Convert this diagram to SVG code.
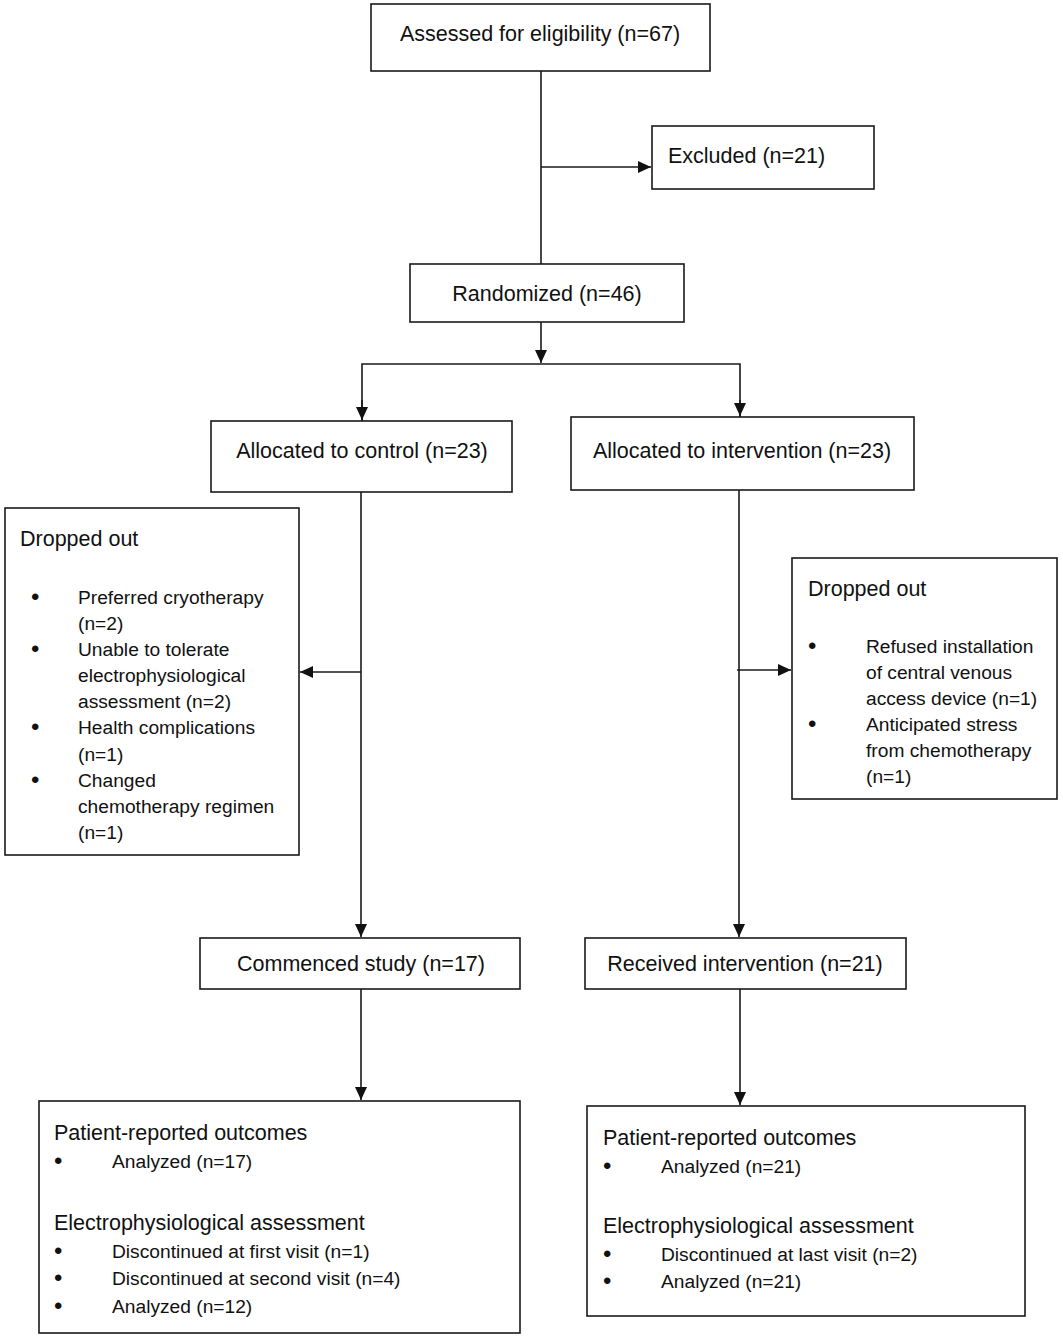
<svg xmlns="http://www.w3.org/2000/svg" width="1063" height="1339" viewBox="0 0 1063 1339">
<defs>
<style>
.box{fill:#fff;stroke:#1a1a1a;stroke-width:1.6}
.t{font-family:"Liberation Sans",Arial,sans-serif;font-size:21.5px;fill:#111}
.b{font-family:"Liberation Sans",Arial,sans-serif;font-size:19.2px;fill:#111}
.d{font-size:24px}
.c{fill:none;stroke:#1a1a1a;stroke-width:1.6}
</style>
<marker id="ah" viewBox="0 0 10 10" refX="10" refY="5" markerWidth="13" markerHeight="12" markerUnits="userSpaceOnUse" orient="auto" preserveAspectRatio="none">
<path d="M0,0 L10,5 L0,10 Z" fill="#111"/>
</marker>
</defs>
<rect width="1063" height="1339" fill="#fff"/>
<g id="connectors">
<line class="c" x1="541" y1="71" x2="541" y2="264"/>
<line class="c" x1="541" y1="167" x2="651" y2="167" marker-end="url(#ah)"/>
<line class="c" x1="541" y1="322" x2="541" y2="363" marker-end="url(#ah)"/>
<polyline class="c" points="362,421 362,364 740,364 740,417"/>
<line class="c" x1="362" y1="400" x2="362" y2="420" marker-end="url(#ah)"/>
<line class="c" x1="740" y1="400" x2="740" y2="416" marker-end="url(#ah)"/>
<line class="c" x1="361" y1="492" x2="361" y2="937" marker-end="url(#ah)"/>
<line class="c" x1="361" y1="672" x2="300" y2="672" marker-end="url(#ah)"/>
<line class="c" x1="739" y1="490" x2="739" y2="937" marker-end="url(#ah)"/>
<line class="c" x1="737" y1="670" x2="791" y2="670" marker-end="url(#ah)"/>
<line class="c" x1="361" y1="989" x2="361" y2="1100" marker-end="url(#ah)"/>
<line class="c" x1="740" y1="989" x2="740" y2="1105" marker-end="url(#ah)"/>
</g>
<g id="assessed">
<rect class="box" x="371" y="4" width="339" height="67"/>
<text class="t" x="540" y="41" text-anchor="middle">Assessed for eligibility (n=67)</text>
</g>
<g id="excluded">
<rect class="box" x="652" y="126" width="222" height="63"/>
<text class="t" x="668" y="163">Excluded (n=21)</text>
</g>
<g id="randomized">
<rect class="box" x="410" y="264" width="274" height="58"/>
<text class="t" x="547" y="301" text-anchor="middle">Randomized (n=46)</text>
</g>
<g id="control">
<rect class="box" x="211" y="421" width="301" height="71"/>
<text class="t" x="362" y="458" text-anchor="middle">Allocated to control (n=23)</text>
</g>
<g id="intervention">
<rect class="box" x="571" y="417" width="343" height="73"/>
<text class="t" x="742" y="458" text-anchor="middle">Allocated to intervention (n=23)</text>
</g>
<g id="dropout-control">
<rect class="box" x="5" y="508" width="294" height="347"/>
<text class="t" x="20" y="546">Dropped out</text>
<g class="b">
<text class="d" x="31" y="605">•</text>
<text x="78" y="604">Preferred cryotherapy</text>
<text x="78" y="630">(n=2)</text>
<text class="d" x="31" y="657">•</text>
<text x="78" y="656">Unable to tolerate</text>
<text x="78" y="682">electrophysiological</text>
<text x="78" y="708">assessment (n=2)</text>
<text class="d" x="31" y="735">•</text>
<text x="78" y="734">Health complications</text>
<text x="78" y="761">(n=1)</text>
<text class="d" x="31" y="788">•</text>
<text x="78" y="787">Changed</text>
<text x="78" y="813">chemotherapy regimen</text>
<text x="78" y="839">(n=1)</text>
</g>
</g>
<g id="dropout-intervention">
<rect class="box" x="792" y="558" width="265" height="241"/>
<text class="t" x="808" y="596">Dropped out</text>
<g class="b">
<text class="d" x="808" y="654">•</text>
<text x="866" y="653">Refused installation</text>
<text x="866" y="679">of central venous</text>
<text x="866" y="705">access device (n=1)</text>
<text class="d" x="808" y="732">•</text>
<text x="866" y="731">Anticipated stress</text>
<text x="866" y="757">from chemotherapy</text>
<text x="866" y="783">(n=1)</text>
</g>
</g>
<g id="commenced">
<rect class="box" x="200" y="938" width="320" height="51"/>
<text class="t" x="361" y="971" text-anchor="middle">Commenced study (n=17)</text>
</g>
<g id="received">
<rect class="box" x="585" y="938" width="321" height="51"/>
<text class="t" x="745" y="971" text-anchor="middle">Received intervention (n=21)</text>
</g>
<g id="outcomes-control">
<rect class="box" x="39" y="1101" width="481" height="232"/>
<text class="t" x="54" y="1140">Patient-reported outcomes</text>
<g class="b">
<text class="d" x="54" y="1169">•</text>
<text x="112" y="1168">Analyzed (n=17)</text>
</g>
<text class="t" x="54" y="1230">Electrophysiological assessment</text>
<g class="b">
<text class="d" x="54" y="1259">•</text>
<text x="112" y="1258">Discontinued at first visit (n=1)</text>
<text class="d" x="54" y="1286">•</text>
<text x="112" y="1285">Discontinued at second visit (n=4)</text>
<text class="d" x="54" y="1314">•</text>
<text x="112" y="1313">Analyzed (n=12)</text>
</g>
</g>
<g id="outcomes-intervention">
<rect class="box" x="587" y="1106" width="438" height="210"/>
<text class="t" x="603" y="1145">Patient-reported outcomes</text>
<g class="b">
<text class="d" x="603" y="1174">•</text>
<text x="661" y="1173">Analyzed (n=21)</text>
</g>
<text class="t" x="603" y="1233">Electrophysiological assessment</text>
<g class="b">
<text class="d" x="603" y="1262">•</text>
<text x="661" y="1261">Discontinued at last visit (n=2)</text>
<text class="d" x="603" y="1289">•</text>
<text x="661" y="1288">Analyzed (n=21)</text>
</g>
</g>
</svg>
